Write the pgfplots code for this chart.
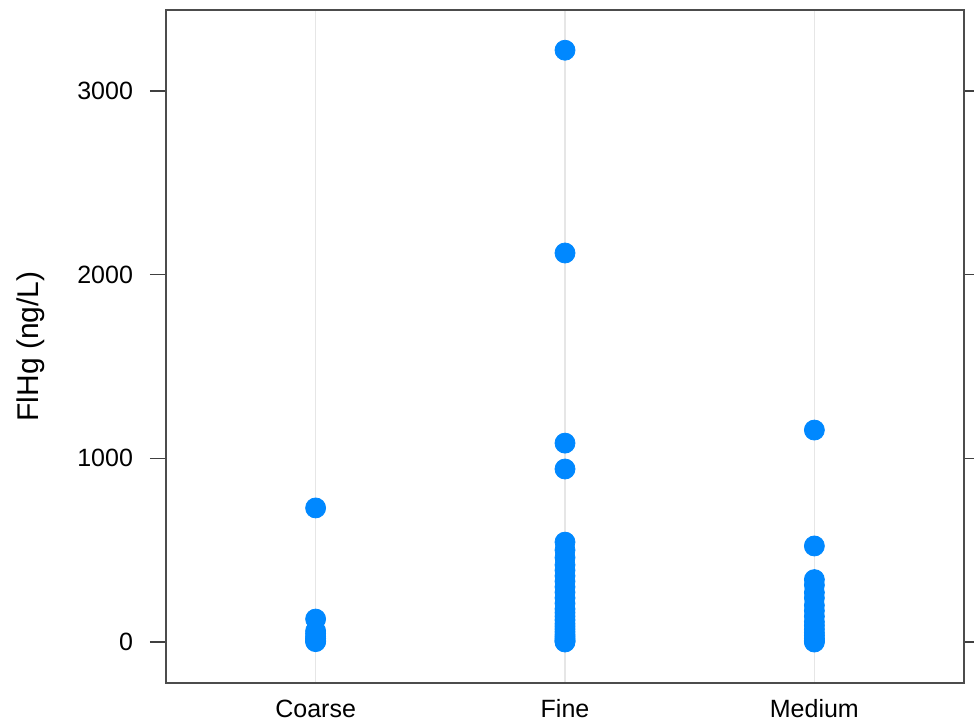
\documentclass[border=0pt]{standalone}
\usepackage{fontspec}
\setmainfont{Liberation Sans}
\usepackage{pgfplots}
\pgfplotsset{compat=1.18}
\usetikzlibrary{calc}
\definecolor{dotblue}{RGB}{0,136,255}
\definecolor{gridgray}{RGB}{230,230,230}
\pgfplotsset{dots/.style={only marks, mark=*, mark size=5pt, color=dotblue, mark options={draw=none, fill=dotblue}}}
\begin{document}
\begin{tikzpicture}
\begin{axis}[
  scale only axis,
  width=399pt, height=336.5pt,
  xmin=0.4, xmax=3.6,
  ymin=-223, ymax=3441,
  xtick={1,2,3},
  xticklabels={Coarse,Fine,Medium},
  ytick={0,1000,2000,3000},
  xmajorgrids,
  grid style={gridgray, line width=0.8pt},
  xtick style={draw=none},
  ytick style={black!75, line width=0.7pt},
  tick align=outside,
  ytick pos=both,
  yticklabel pos=left,
  major tick length=8pt,
  axis line style={black!70, line width=0.8pt},
  tick label style={font=\fontsize{12.5}{15}\selectfont, black},
  xticklabel style={anchor=north, text height=9pt, text depth=0pt, yshift=3.5pt},
  yticklabel style={xshift=-5pt},
  /pgf/number format/assume math mode=true,
  /pgf/number format/1000 sep={},
  ylabel={FlHg (ng/L)},
  ylabel style={font=\fontsize{15}{18}\selectfont, at={(axis description cs:-0.169,0.5)}, anchor=center},
]
% Coarse
\addplot[dots] coordinates {
(1,730) (1,125) (1,60) (1,45) (1,30) (1,20) (1,10) (1,5) (1,2)
};
% Fine
\addplot[dots] coordinates {
(2,3222) (2,2118) (2,1083) (2,942)
(2,544) (2,500) (2,460) (2,420) (2,390) (2,360) (2,330) (2,300) (2,270)
(2,240) (2,210) (2,180) (2,160) (2,140) (2,120) (2,100) (2,85) (2,70)
(2,55) (2,40) (2,30) (2,20) (2,10) (2,5) (2,0)
};
% Medium
\addplot[dots] coordinates {
(3,1154) (3,523)
(3,340) (3,310) (3,270) (3,240) (3,200) (3,170) (3,140) (3,110) (3,90)
(3,70) (3,50) (3,35) (3,20) (3,10) (3,5) (3,0)
};
\end{axis}
\pgfresetboundingbox
\path[use as bounding box] ($(current axis.south west)+(-83pt,-19pt)$) rectangle ($(current axis.north east)+(5pt,5pt)$);
\end{tikzpicture}
\end{document}
